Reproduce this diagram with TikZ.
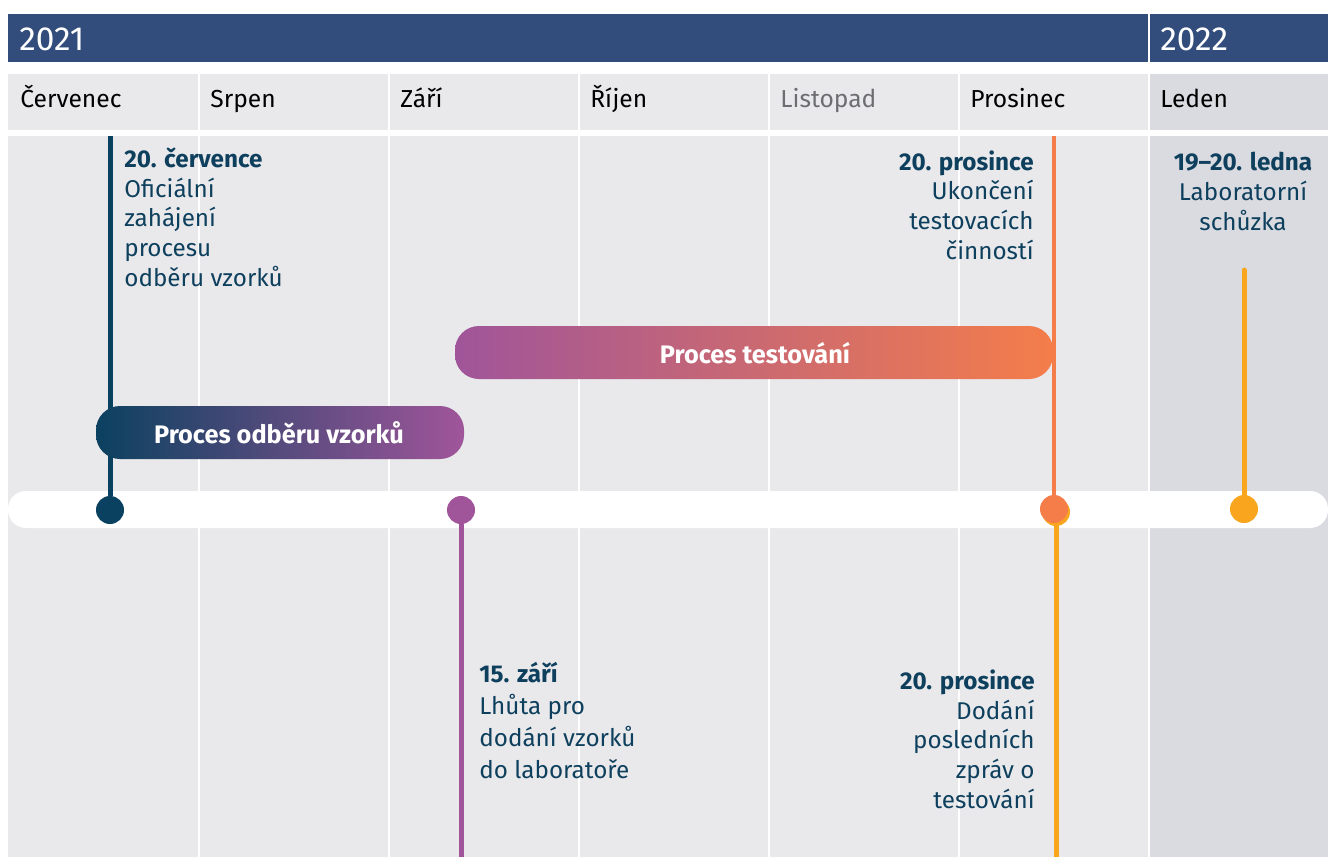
\documentclass[tikz,border=0pt]{standalone}
\usepackage{fontspec}
\setmainfont{Fira Sans}
\usetikzlibrary{positioning}

\definecolor{hdrblue}{HTML}{324D7C}
\definecolor{colgray}{HTML}{E9E9EC}
\definecolor{coldark}{HTML}{DADBE0}
\definecolor{deepteal}{HTML}{0B4160}
\definecolor{phasepurple}{HTML}{A0559A}
\definecolor{phaseorange}{HTML}{F47D4A}
\definecolor{amber}{HTML}{F9A61E}
\definecolor{notetext}{HTML}{0E405E}
\definecolor{mutedtext}{HTML}{6D6E71}

\tikzset{
  month/.style={anchor=base west, inner sep=0pt, font=\fontsize{14}{16}\selectfont},
  yearlabel/.style={anchor=base west, inner sep=0pt, text=white, font=\fontsize{19}{21}\selectfont},
  milestone/.style={circle, fill=#1, minimum size=5.6mm, inner sep=0pt},
  stem/.style={draw=#1, line width=1mm},
  note/.style={inner sep=0pt, text=notetext, font=\fontsize{13.8}{16.8}\selectfont},
  phase/.style={text=white, font=\fontsize{14.4}{16}\selectfont\bfseries}
}

\begin{document}
\begin{tikzpicture}[x=0.2mm, y=-0.2mm]

    % --- Page size ---
    \useasboundingbox (0,0) rectangle (1328,857);

    % --- Year header ---
    \fill[hdrblue] (8,14) rectangle (1328,62);
    \fill[white] (1147.5,14) rectangle (1150,62);
    \node[yearlabel] (y2021) at (19,51) {2021};
    \node[yearlabel] (y2022) at (1160,51) {2022};

    % --- Month columns ---
    \fill[colgray] (8,74) rectangle (1148,130);
    \fill[colgray] (8,136) rectangle (1148,857);
    \fill[coldark] (1150,74) rectangle (1328,130);
    \fill[coldark] (1150,136) rectangle (1328,857);
    \foreach \i in {0,...,5}
        \fill[white] (197.5+190*\i,74) rectangle ++(2.5,783);
    \fill[white] (8,130) rectangle (1328,136);

    \foreach \m/\c [count=\i from 0] in {Červenec/black, Srpen/black, Září/black,
            Říjen/black, Listopad/mutedtext, Prosinec/black, Leden/black}
        \node[month, text=\c] (m\i) at (20+190*\i,108) {\m};

    % --- Time line ---
    \fill[white, rounded corners=3.6mm] (8,491) rectangle (1328,528);

    % --- Milestones and stems ---
    \node[milestone=deepteal] (jul) at (110,510) {};
    \coordinate (jultop) at (110,136);
    \draw[stem=deepteal] (jul) -- (jultop);

    \node[milestone=phasepurple] (sep) at (461,510) {};
    \coordinate (sepbot) at (461,857);
    \draw[stem=phasepurple] (sep) -- (sepbot);

    \node[milestone=amber] (decshadow) at (1056,512) {};
    \coordinate (decbot) at (1056,857);
    \draw[stem=amber] (decshadow) -- (decbot);
    \node[milestone=phaseorange] (dec) at (1054,509) {};
    \coordinate (dectop) at (1054,136);
    \draw[stem=phaseorange, line width=0.8mm] (dec) -- (dectop);

    \node[milestone=amber] (jan) at (1244,509) {};
    \coordinate (jantop) at (1244,270);
    \draw[stem=amber, line cap=round] (jan) -- (jantop);

    % --- Phase bars ---
    \shade[left color=deepteal, right color=phasepurple, rounded corners=4.8mm]
        (96,406) rectangle (464,459);
    \node[phase] (sampling) at (279,433) {Proces odběru vzorků};

    \shade[left color=phasepurple, right color=phaseorange, rounded corners=4.8mm]
        (455,326) rectangle (1053,379);
    \node[phase] (testing) at (755,353) {Proces testování};

    % --- Notes (anchored at the baseline of their last line) ---
    \node[note, anchor=base west, align=left] (notejul) at (124,286)
        {\textbf{20. července}\\Oficiální\\zahájení\\procesu\\odběru vzorků};
    \node[note, anchor=base east, align=right] (notedec) at (1034,259)
        {\textbf{20. prosince}\\Ukončení\\testovacích\\činností};
    \node[note, anchor=base, align=center] (notejan) at (1243,230)
        {\textbf{19–20. ledna}\\Laboratorní\\schůzka};
    \node[note, anchor=base west, align=left, font=\fontsize{13.8}{18.2}\selectfont]
        (notesep) at (479,778)
        {\textbf{15. září}\\Lhůta pro\\dodání vzorků\\do laboratoře};
    \node[note, anchor=base east, align=right] (notedecb) at (1035,808)
        {\textbf{20. prosince}\\Dodání\\posledních\\zpráv o\\testování};

\end{tikzpicture}
\end{document}
